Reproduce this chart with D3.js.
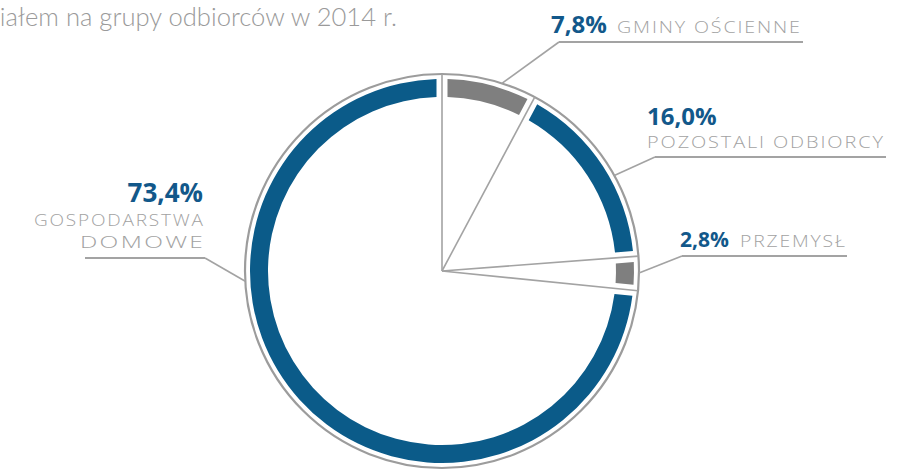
<!DOCTYPE html>
<html><head><meta charset="utf-8">
<script src="https://cdn.jsdelivr.net/npm/d3@7/dist/d3.min.js"></script>
<style>
html,body{margin:0;padding:0;background:#fff;}
svg{display:block;}
</style></head>
<body>
<svg id="c" width="900" height="470"></svg>
<script>
// ---- data ----
const categories = ["GMINY OŚCIENNE", "POZOSTALI ODBIORCY", "PRZEMYSŁ", "GOSPODARSTWA DOMOWE"];
const values = [7.8, 16.0, 2.8, 73.4];
const valueLabels = ["7,8%", "16,0%", "2,8%", "73,4%"];
const nameLines = [["GMINY OŚCIENNE"], ["POZOSTALI ODBIORCY"], ["PRZEMYSŁ"], ["GOSPODARSTWA", "DOMOWE"]];
const bandColors = ["#7f7f7f", "#0b5b89", "#7f7f7f", "#0b5b89"];
const titleText = "iałem na grupy odbiorców w 2014 r.";

// ---- layout ----
const svg = d3.select("#c");
const cx = 442, cy = 271, R = 197, rIn = 174, rOut = 192;
const blue = "#12588a", grey = "#a2a2a2", lineGrey = "#a3a3a3";

svg.append("text").attr("x", 397).attr("y", 26).attr("text-anchor", "end")
  .attr("font-family", "Lato").attr("font-weight", 300).attr("font-size", 25.6)
  .attr("fill", "#9a9a9a").text(titleText);

const pie = d3.pie().sort(null).value(d => d);
const arcs = pie(values);
const g = svg.append("g").attr("transform", `translate(${cx},${cy})`);

const bandArc = d3.arc().innerRadius(rIn).outerRadius(rOut).padRadius(183).padAngle(11 / 183);
g.selectAll("path.band").data(arcs).join("path").attr("class", "band")
  .attr("d", bandArc).attr("fill", (d, i) => bandColors[i]);

// outline circle
g.append("circle").attr("r", R).attr("fill", "none").attr("stroke", "#9c9c9c").attr("stroke-width", 2.2);

// separators
g.selectAll("line.sep").data(arcs).join("line").attr("class", "sep")
  .attr("x1", 0).attr("y1", 0)
  .attr("x2", d => R * Math.sin(d.startAngle)).attr("y2", d => -R * Math.cos(d.startAngle))
  .attr("stroke", lineGrey).attr("stroke-width", 1.6);

// labels (layout constants)
const labelLayout = [
  {ang: 17.7, pctX: 551, pctY: 33, pctSize: 24, anchor: "start", nameX: 617, nameY: [33], nameW: [183], ulY: 42, ulX1: 559, ulX2: 803, joinX: 559},
  {ang: 61, pctX: 647, pctY: 125, pctSize: 24, anchor: "start", nameX: 647, nameY: [148], nameW: [236], ulY: 157, ulX1: 655, ulX2: 886, joinX: 655},
  {ang: 90.6, pctX: 680, pctY: 247, pctSize: 21, anchor: "start", nameX: 740, nameY: [247], nameW: [105], ulY: 256, ulX1: 682, ulX2: 847, joinX: 682},
  {ang: 267, pctX: 203, pctY: 202, pctSize: 26, anchor: "end", nameX: 203, nameY: [226, 248], nameW: [169, 123], ulY: 258, ulX1: 85, ulX2: 205, joinX: 205}
];

const LS = 1.6;
labelLayout.forEach((L, i) => {
  const a = L.ang * Math.PI / 180;
  const sx = cx + R * Math.sin(a), sy = cy - R * Math.cos(a);
  svg.append("polyline")
    .attr("points", `${sx},${sy} ${L.joinX},${L.ulY}`)
    .attr("fill", "none").attr("stroke", lineGrey).attr("stroke-width", 1.6);
  svg.append("line").attr("x1", L.ulX1).attr("x2", L.ulX2).attr("y1", L.ulY).attr("y2", L.ulY)
    .attr("stroke", lineGrey).attr("stroke-width", 1.8);
  svg.append("text").attr("x", L.pctX).attr("y", L.pctY).attr("text-anchor", L.anchor)
    .attr("font-family", "Open Sans").attr("font-weight", 700).attr("font-size", L.pctSize)
    .attr("fill", blue).text(valueLabels[i]);
  nameLines[i].forEach((t, j) => {
    const x0 = L.anchor === "end" ? L.nameX - L.nameW[j] : L.nameX;
    const gg = svg.append("g").attr("transform", `translate(${x0},${L.nameY[j]})`);
    const tx = gg.append("text").attr("x", 0).attr("y", 0)
      .attr("font-family", "Open Sans").attr("font-weight", 300).attr("font-size", 17)
      .attr("letter-spacing", LS)
      .attr("fill", grey).text(t);
    const w = tx.node().getComputedTextLength() - LS;
    const s = L.nameW[j] / w;
    tx.attr("transform", `scale(${s},1)`);
  });
});
</script>
</body></html>
